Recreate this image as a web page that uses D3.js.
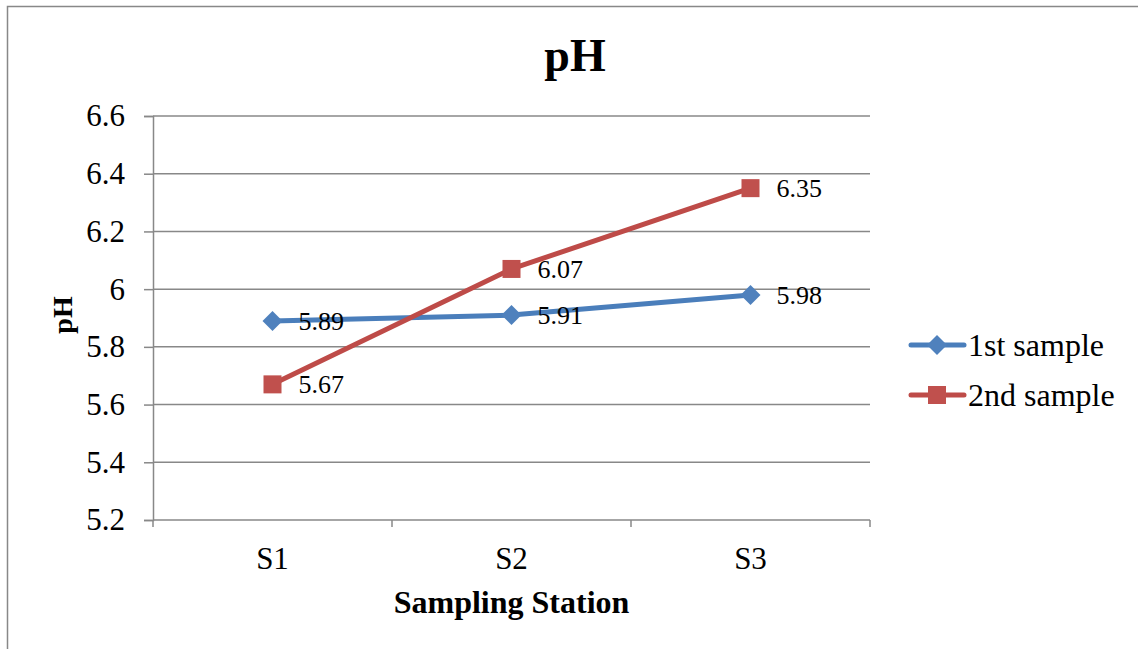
<!DOCTYPE html>
<html>
<head>
  <meta charset="utf8">
  <title>pH</title>
  <style>
    * { margin: 0; padding: 0; }
    body { background: #fff; }
    text { font-family: "Liberation Serif", "Times New Roman", serif; fill: #000; }
  </style>
</head>
<body>
  <script src="https://cdn.jsdelivr.net/npm/d3@7"></script>
  <script>
    var stations = ['S1', 'S2', 'S3']
    var firstSample = [5.89, 5.91, 5.98]
    var secondSample = [5.67, 6.07, 6.35]
    var yTicks = [5.2, 5.4, 5.6, 5.8, 6, 6.2, 6.4, 6.6]
    var seriesNames = ['1st sample', '2nd sample']

    var w = 1138
    var h = 649
    var plotLeft = 153, plotRight = 870, plotTop = 116, plotBottom = 520

    var series = [
      { name: seriesNames[0], values: firstSample, color: '#4A7EBB', marker: '#4F81BD', shape: 'diamond' },
      { name: seriesNames[1], values: secondSample, color: '#BE4B48', marker: '#C0504D', shape: 'square' }
    ]

    var svg = d3.select('body').append('svg').attr('width', w).attr('height', h)

    // outer chart border (runs off the right and bottom of the picture)
    svg.append('rect')
      .attr('x', 7.5).attr('y', 6.5)
      .attr('width', w + 20).attr('height', h + 20)
      .attr('fill', 'none').attr('stroke', '#888').attr('stroke-width', 1.5)

    var xScale = d3.scaleBand().domain(stations).range([plotLeft, plotRight])
    var yScale = d3.scaleLinear().domain([5.2, 6.6]).range([plotBottom, plotTop])

    // gridlines
    svg.append('g').selectAll('line')
      .data(yTicks)
      .enter()
      .append('line')
      .attr('x1', plotLeft).attr('x2', plotRight)
      .attr('y1', d => yScale(d)).attr('y2', d => yScale(d))
      .attr('stroke', '#888').attr('stroke-width', 1.5)

    // y axis
    var yAxis = svg.append('g')
      .attr('transform', 'translate(' + plotLeft + ',0)')
      .call(d3.axisLeft(yScale).tickValues(yTicks).tickSize(9).tickPadding(19).tickFormat(d => String(d)))
    yAxis.select('.domain').attr('stroke', '#888').attr('stroke-width', 1.5)
    yAxis.selectAll('line').attr('stroke', '#888').attr('stroke-width', 1.5)
    yAxis.selectAll('text').attr('font-size', '31px').attr('font-family', '"Liberation Serif", serif').attr('fill', '#000')

    // x axis ticks at category boundaries
    var bounds = stations.map(s => xScale(s)).concat([plotRight])
    svg.append('g').selectAll('line')
      .data(bounds)
      .enter()
      .append('line')
      .attr('x1', d => d).attr('x2', d => d)
      .attr('y1', plotBottom).attr('y2', plotBottom + 7)
      .attr('stroke', '#888').attr('stroke-width', 1.5)

    svg.append('g').selectAll('text')
      .data(stations)
      .enter()
      .append('text')
      .text(d => d)
      .attr('x', d => xScale(d) + xScale.bandwidth() / 2)
      .attr('y', 569)
      .attr('text-anchor', 'middle')
      .attr('font-size', '31px')

    // titles
    svg.append('text').text('pH')
      .attr('x', 575).attr('y', 71)
      .attr('text-anchor', 'middle').attr('font-size', '46px').attr('font-weight', 'bold')

    svg.append('text').text('Sampling Station')
      .attr('x', xScale('S2') + xScale.bandwidth() / 2).attr('y', 613)
      .attr('text-anchor', 'middle').attr('font-size', '32px').attr('font-weight', 'bold')

    svg.append('text').text('pH')
      .attr('transform', 'translate(72,315) rotate(-90)')
      .attr('text-anchor', 'middle').attr('font-size', '28px').attr('font-weight', 'bold')

    var line = d3.line()
      .x((d, i) => xScale(stations[i]) + xScale.bandwidth() / 2)
      .y(d => yScale(d))

    function drawMarker(g, shape, color) {
      if (shape === 'diamond') {
        g.append('path').attr('d', 'M0,-10L10,0L0,10L-10,0Z').attr('fill', color)
      } else {
        g.append('rect').attr('x', -9).attr('y', -9).attr('width', 18).attr('height', 18).attr('fill', color)
      }
    }

    series.forEach(s => {
      svg.append('path')
        .datum(s.values)
        .attr('d', line)
        .attr('fill', 'none')
        .attr('stroke', s.color)
        .attr('stroke-width', 5)
        .attr('stroke-linejoin', 'round')
        .attr('stroke-linecap', 'round')

      s.values.forEach((v, i) => {
        var g = svg.append('g')
          .attr('transform', 'translate(' + (xScale(stations[i]) + xScale.bandwidth() / 2) + ',' + yScale(v) + ')')
        drawMarker(g, s.shape, s.marker)
      })
    })

    // data labels
    series.forEach(s => {
      svg.append('g').selectAll('text')
        .data(s.values)
        .enter()
        .append('text')
        .text(d => d3.format('.2f')(d))
        .attr('x', (d, i) => xScale(stations[i]) + xScale.bandwidth() / 2 + 26)
        .attr('y', d => yScale(d))
        .attr('dy', '0.35em')
        .attr('font-size', '26px')
    })

    // legend
    var legend = svg.append('g').selectAll('g')
      .data(series)
      .enter()
      .append('g')
      .attr('transform', (d, i) => 'translate(0,' + (345 + i * 50) + ')')

    legend.append('line')
      .attr('x1', 911).attr('x2', 964)
      .attr('stroke', d => d.color).attr('stroke-width', 5).attr('stroke-linecap', 'round')
    legend.each(function (d) {
      drawMarker(d3.select(this).append('g').attr('transform', 'translate(937,0)'), d.shape, d.marker)
    })
    legend.append('text')
      .text(d => d.name)
      .attr('x', 968).attr('dy', '0.33em')
      .attr('font-size', '32px')
  </script>
</body>
</html>
